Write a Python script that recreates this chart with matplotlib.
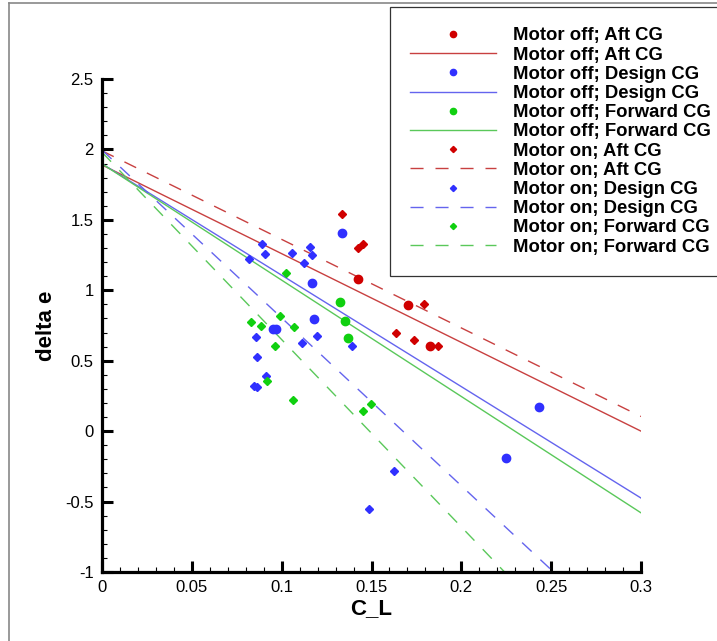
import matplotlib
matplotlib.use("Agg")
import matplotlib.pyplot as plt
from matplotlib.lines import Line2D
from matplotlib.ticker import MultipleLocator

plt.rcParams['font.family'] = ['Liberation Sans', 'DejaVu Sans']

# motor off (circles)
off_aft_x = [0.1427, 0.1705, 0.1826]
off_aft_y = [1.083, 0.896, 0.605]
off_des_x = [0.1334, 0.1167, 0.1180, 0.0953, 0.0969, 0.2432, 0.2249]
off_des_y = [1.409, 1.054, 0.799, 0.728, 0.728, 0.168, -0.194]
off_fwd_x = [0.1325, 0.1353, 0.1367]
off_fwd_y = [0.917, 0.780, 0.660]

# motor on (diamonds)
on_aft_x = [0.1338, 0.1423, 0.1455, 0.1792, 0.1636, 0.1738, 0.1868]
on_aft_y = [1.544, 1.303, 1.326, 0.901, 0.695, 0.645, 0.601]
on_des_x = [0.0892, 0.0909, 0.1056, 0.1158, 0.1170, 0.1124, 0.0820, 0.0857, 0.1198,
            0.1111, 0.1390, 0.0861, 0.0911, 0.0848, 0.0863, 0.1626, 0.1486]
on_des_y = [1.328, 1.260, 1.262, 1.310, 1.253, 1.196, 1.220, 0.669, 0.674,
            0.626, 0.603, 0.525, 0.388, 0.321, 0.312, -0.284, -0.553]
on_fwd_x = [0.1024, 0.0828, 0.0887, 0.0992, 0.1070, 0.0965, 0.0918, 0.1065, 0.1499, 0.1455]
on_fwd_y = [1.121, 0.778, 0.750, 0.818, 0.738, 0.608, 0.357, 0.220, 0.194, 0.144]

# fitted lines, end points at C_L = 0 and 0.3
fit_x = [0.0, 0.3]
fit_off_aft = [1.89, 0.0]
fit_off_des = [1.898, -0.475]
fit_off_fwd = [1.898, -0.58]
fit_on_aft = [1.99, 0.104]
fit_on_des = [1.996, -1.58]
fit_on_fwd = [1.98, -2.01]

red, blue, green = '#d00000', '#3030ff', '#10d010'
red_l, blue_l, green_l = '#c84040', '#6464ee', '#5ac85a'

fig = plt.figure(figsize=(7.17, 6.41), dpi=100)
ax = fig.add_axes([102/717, 1 - 572/641, 539/717, 493/641])

handles = []
groups = [
    (off_aft_x, off_aft_y, fit_off_aft, red, red_l, 'o', '-', 'Motor off; Aft CG'),
    (off_des_x, off_des_y, fit_off_des, blue, blue_l, 'o', '-', 'Motor off; Design CG'),
    (off_fwd_x, off_fwd_y, fit_off_fwd, green, green_l, 'o', '-', 'Motor off; Forward CG'),
    (on_aft_x, on_aft_y, fit_on_aft, red, red_l, 'D', '--', 'Motor on; Aft CG'),
    (on_des_x, on_des_y, fit_on_des, blue, blue_l, 'D', '--', 'Motor on; Design CG'),
    (on_fwd_x, on_fwd_y, fit_on_fwd, green, green_l, 'D', '--', 'Motor on; Forward CG'),
]
for gx, gy, fy, c, cl, m, ls, lab in groups:
    ms = 6 if m == 'o' else 4.2
    ln, = ax.plot(fit_x, fy, color=cl, lw=1.0, zorder=2)
    if ls == '--':
        ln.set_dashes((9.4, 8.6))
    pt, = ax.plot(gx, gy, linestyle='none', marker=m, ms=ms, color=c, mec=c, zorder=3)
    handles.append((pt, lab))
    handles.append((ln, lab))

ax.set_xlim(0, 0.3)
ax.set_ylim(-1, 2.5)
ax.xaxis.set_major_locator(MultipleLocator(0.05))
ax.xaxis.set_minor_locator(MultipleLocator(0.01))
ax.yaxis.set_major_locator(MultipleLocator(0.5))
ax.yaxis.set_minor_locator(MultipleLocator(0.1))
ax.xaxis.set_major_formatter(plt.FuncFormatter(lambda v, p: ('%g' % round(v, 3))))
ax.yaxis.set_major_formatter(plt.FuncFormatter(lambda v, p: ('%g' % round(v, 3))))

for s in ['top', 'right']:
    ax.spines[s].set_visible(False)
for s in ['left', 'bottom']:
    ax.spines[s].set_linewidth(2.3)
ax.tick_params(which='major', direction='in', length=8, width=2.2, labelsize=12, pad=6)
ax.tick_params(which='minor', direction='in', length=3.5, width=0.8)

ax.set_xlabel('C_L', fontsize=16, fontweight='bold', labelpad=2)
ax.set_ylabel('delta e', fontsize=16, fontweight='bold', labelpad=6)

leg = ax.legend([h for h, l in handles], [l for h, l in handles],
                loc='upper left', bbox_to_anchor=(390/717, 1 - 7/641),
                bbox_transform=fig.transFigure, borderaxespad=0,
                prop={'weight': 'bold', 'size': 13.3}, labelspacing=0.12,
                handlelength=4.66, handletextpad=0.92, borderpad=1.1,
                frameon=True, fancybox=False, markerscale=0.75, numpoints=1)
leg.get_frame().set_edgecolor('black')
leg.get_frame().set_linewidth(0.9)

# outer frame of the picture
fig.add_artist(Line2D([9/717, 9/717], [0, 1 - 3/641], transform=fig.transFigure,
                      color='#888888', lw=1.2))
fig.add_artist(Line2D([9/717, 1], [1 - 3/641, 1 - 3/641], transform=fig.transFigure,
                      color='#888888', lw=1.2))

fig.savefig('out.png', dpi=100)
